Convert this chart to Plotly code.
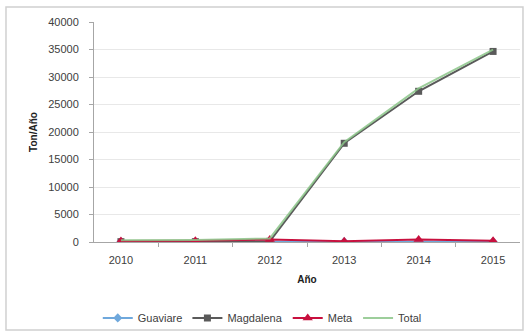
import plotly.graph_objects as go

years = ["2010", "2011", "2012", "2013", "2014", "2015"]
guaviare = [40, 50, 80, 60, 80, 60]
magdalena = [60, 60, 120, 17950, 27400, 34650]
meta = [200, 250, 450, 150, 450, 250]
total = [300, 360, 650, 18160, 27930, 34960]
yticks = [0, 5000, 10000, 15000, 20000, 25000, 30000, 35000, 40000]

FONT = "Liberation Sans Narrow, Arial Narrow, Liberation Sans, Arial"

fig = go.Figure()
fig.add_trace(go.Scatter(x=years, y=guaviare, name="Guaviare", mode="lines+markers",
                         line=dict(color="#6FA8DC", width=2),
                         marker=dict(symbol="diamond", size=7, color="#6FA8DC")))
fig.add_trace(go.Scatter(x=years, y=magdalena, name="Magdalena", mode="lines+markers",
                         line=dict(color="#5A5A5A", width=2),
                         marker=dict(symbol="square", size=7, color="#5A5A5A")))
fig.add_trace(go.Scatter(x=years, y=meta, name="Meta", mode="lines+markers",
                         line=dict(color="#C8103E", width=2),
                         marker=dict(symbol="triangle-up", size=9, color="#C8103E")))
fig.add_trace(go.Scatter(x=years, y=total, name="Total", mode="lines",
                         line=dict(color="#8CC68A", width=2), opacity=0.85))

fig.update_layout(
    width=528, height=335,
    margin=dict(l=94, r=8, t=22, b=93, autoexpand=False),
    paper_bgcolor="white", plot_bgcolor="white",
    font=dict(family=FONT, size=11, color="#404040"),
    showlegend=True,
    legend=dict(orientation="h", x=0.395, xanchor="center", y=-0.345, yanchor="middle",
                font=dict(size=11, color="#404040"), traceorder="normal",
                itemwidth=30, tracegroupgap=0, bgcolor="rgba(0,0,0,0)"),
    shapes=[dict(type="rect", xref="paper", yref="paper",
                 x0=-0.2066, x1=1.007, y0=-0.4, y1=1.068,
                 line=dict(color="#D0D0D0", width=1.5), fillcolor="rgba(0,0,0,0)",
                 layer="below")],
)
fig.update_xaxes(type="category", showline=True, linecolor="#A6A6A6", linewidth=1,
                 ticks="outside", tickson="boundaries", ticklen=4, tickcolor="#A6A6A6",
                 showgrid=False, tickfont=dict(size=11), ticklabelstandoff=8,
                 title=dict(text="<b>Año</b>", font=dict(size=10, color="#202020"), standoff=10))
fig.update_yaxes(range=[0, 40000], tickvals=yticks, tickformat="d", showline=True,
                 linecolor="#A6A6A6",
                 linewidth=1, ticks="outside", ticklen=4, tickcolor="#A6A6A6",
                 showgrid=True, gridcolor="#E8E8E8", gridwidth=1, zeroline=False,
                 tickfont=dict(size=11), ticklabelstandoff=8,
                 title=dict(text="<b>Ton/Año</b>", font=dict(size=10, color="#202020"), standoff=8))

fig.write_html("out.html")
